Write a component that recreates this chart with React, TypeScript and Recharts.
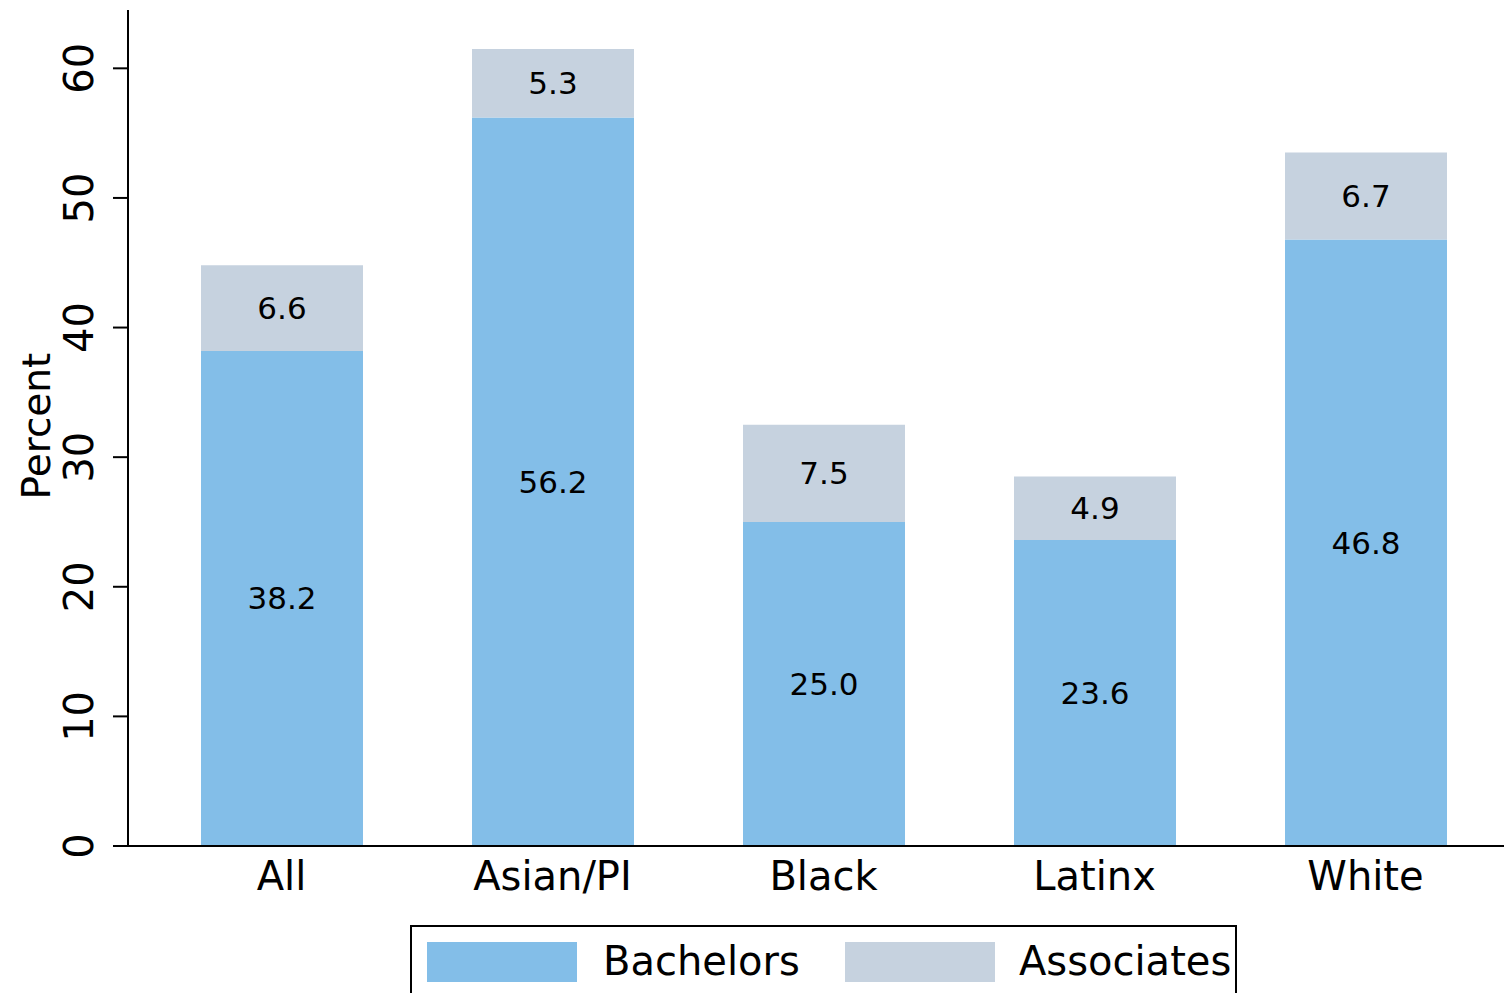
import { BarChart, Bar, XAxis, YAxis, LabelList } from "recharts";

const groups = ["All", "Asian/PI", "Black", "Latinx", "White"];
const bachelors = [38.2, 56.2, 25.0, 23.6, 46.8];
const associates = [6.6, 5.3, 7.5, 4.9, 6.7];
const yTicks = [0, 10, 20, 30, 40, 50, 60];

const BACH = "#83BEE8";
const ASSOC = "#C6D2DF";
const FONT = "DejaVu Sans";

const data = groups.map((g, i) => ({ group: g, bachelors: bachelors[i], associates: associates[i] }));

function YTick(props: any) {
  const { y, payload } = props;
  return (
    <text transform={`translate(93,${y}) rotate(-90)`} textAnchor="middle" fontSize={40} fontFamily={FONT} fill="#000">
      {payload.value}
    </text>
  );
}

function XTick(props: any) {
  const { x, payload } = props;
  return (
    <text x={x} y={890} textAnchor="middle" fontSize={40} fontFamily={FONT} fill="#000">
      {payload.value}
    </text>
  );
}

const fmt = (v: any) => Number(v).toFixed(1);

export default function App() {
  return (
    <div style={{ position: "absolute", left: 0, top: 0, width: 1504, height: 993, overflow: "hidden", background: "#fff" }}>
      <BarChart width={1504} height={993} data={data} margin={{ top: 10, right: 0, left: 0, bottom: 87 }}>
        <XAxis
          dataKey="group"
          height={60}
          padding={{ left: 18, right: 3 }}
          tickLine={false}
          tick={<XTick />}
          axisLine={{ stroke: "#000", strokeWidth: 2 }}
        />
        <YAxis
          width={128}
          domain={[0, 64.5]}
          ticks={yTicks}
          tickSize={15}
          tick={<YTick />}
          axisLine={{ stroke: "#000", strokeWidth: 2 }}
          tickLine={{ stroke: "#000", strokeWidth: 2 }}
          label={{
            value: "Percent",
            content: () => (
              <text transform="translate(50,426) rotate(-90)" textAnchor="middle" fontSize={39} fontFamily={FONT} fill="#000">
                Percent
              </text>
            ),
          }}
        />
        <Bar dataKey="bachelors" stackId="a" fill={BACH} barSize={162} isAnimationActive={false}>
          <LabelList dataKey="bachelors" position="center" formatter={fmt} fontSize={31} fontFamily={FONT} fill="#000" />
        </Bar>
        <Bar dataKey="associates" stackId="a" fill={ASSOC} barSize={162} isAnimationActive={false}>
          <LabelList dataKey="associates" position="center" formatter={fmt} fontSize={31} fontFamily={FONT} fill="#000" />
        </Bar>
      </BarChart>
      <div
        style={{
          position: "absolute",
          left: 410,
          top: 925,
          width: 823,
          height: 90,
          border: "2px solid #000",
          fontFamily: FONT,
          fontSize: 40,
          color: "#000",
        }}
      >
        <div style={{ position: "absolute", left: 15, top: 15, width: 150, height: 40, background: BACH }} />
        <div style={{ position: "absolute", left: 191, top: 10, lineHeight: "48px" }}>Bachelors</div>
        <div style={{ position: "absolute", left: 433, top: 15, width: 150, height: 40, background: ASSOC }} />
        <div style={{ position: "absolute", left: 607, top: 10, lineHeight: "48px" }}>Associates</div>
      </div>
    </div>
  );
}
